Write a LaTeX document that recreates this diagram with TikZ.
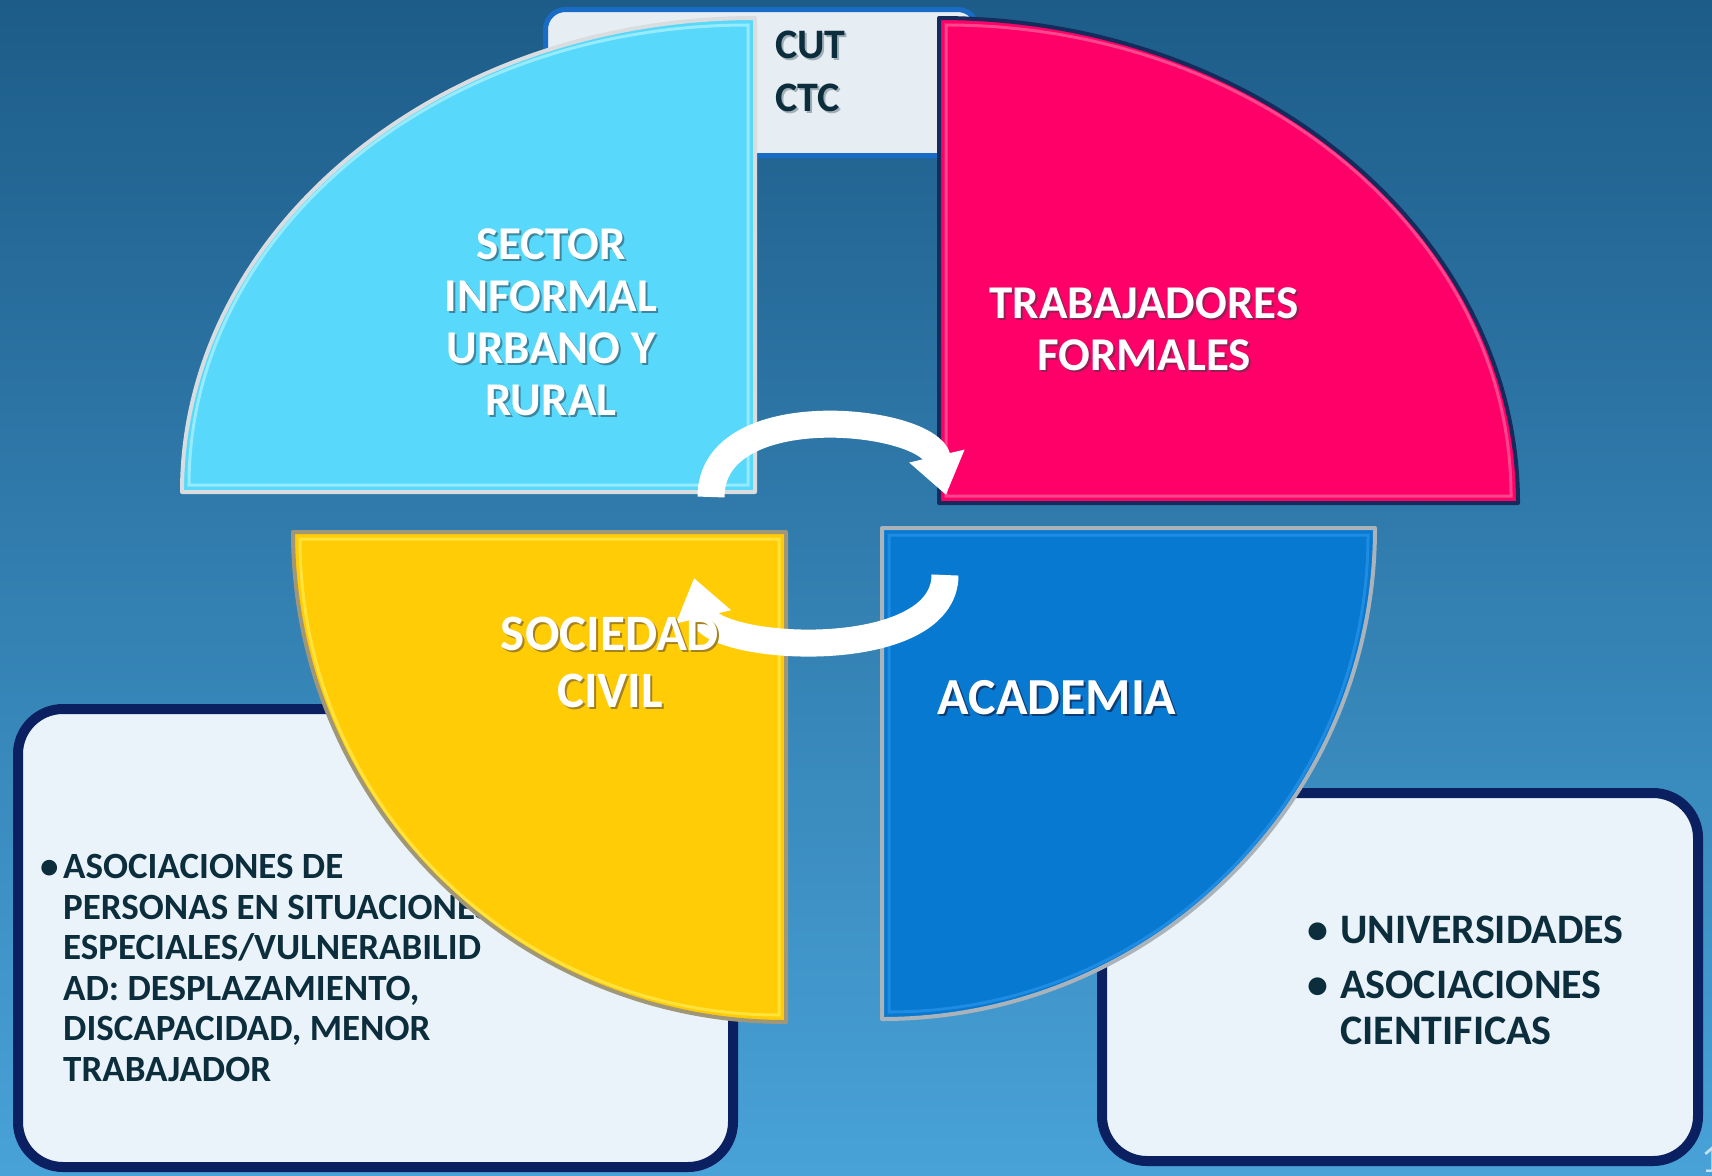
\documentclass[tikz,border=0pt]{standalone}
\usepackage{fontspec}
\setmainfont{Carlito}
\usetikzlibrary{arrows.meta}
\definecolor{bgtop}{RGB}{29,92,137}
\definecolor{bgmid}{RGB}{46,128,178}
\definecolor{bgbot}{RGB}{72,162,216}
\definecolor{qcyan}{RGB}{88,217,251}
\definecolor{qpink}{RGB}{255,0,104}
\definecolor{qyellow}{RGB}{255,204,5}
\definecolor{qblue}{RGB}{8,121,208}
\definecolor{qcyanout}{RGB}{217,221,224}
\definecolor{qcyanin}{RGB}{150,235,255}
\definecolor{qpinkout}{RGB}{21,43,92}
\definecolor{qpinkin}{RGB}{255,70,140}
\definecolor{qyellowout}{RGB}{160,150,120}
\definecolor{qyellowin}{RGB}{255,226,60}
\definecolor{qblueout}{RGB}{170,178,186}
\definecolor{qbluein}{RGB}{30,140,226}
\definecolor{boxfill}{RGB}{235,243,250}
\definecolor{boxline}{RGB}{10,32,96}
\definecolor{cutfill}{RGB}{231,238,243}
\definecolor{cutline}{RGB}{24,108,198}
\definecolor{darktext}{RGB}{12,45,60}
\definecolor{shdark}{RGB}{160,174,184}
\definecolor{shcyan}{RGB}{60,135,160}
\definecolor{shpink}{RGB}{150,30,85}
\definecolor{shyellow}{RGB}{165,130,30}
\definecolor{shblue}{RGB}{15,60,115}
\definecolor{pagenum}{RGB}{200,225,240}
\newcommand\shd[2]{\rlap{\kern2pt\raisebox{-2pt}{\textcolor{#1}{#2}}}#2}
\newcommand\bul[1]{\makebox[#1][l]{•}}
\begin{document}
\begin{tikzpicture}[x=1pt,y=-1pt,
  infobox/.style={draw=boxline, line width=10pt, fill=boxfill, rounded corners=45pt},
  cutbox/.style={draw=cutline, line width=5pt, fill=cutfill, rounded corners=20pt},
  label/.style={text=white, align=center, inner sep=0pt},
  listtext/.style={text=darktext, align=left, inner sep=0pt},
  flowarrow/.style={draw=white, line width=27pt, line cap=butt, -{Triangle[length=40pt,width=54pt]}},
]
\useasboundingbox (0,0) rectangle (1712,1175);
\shade[top color=bgtop, middle color=bgmid, bottom color=bgbot] (0,0) rectangle (1712,1175);

% CUT / CTC box
\draw[cutbox] (545.5,9.5) rectangle (977.5,155.5);
\node[listtext, anchor=west, font=\fontsize{42}{53}\selectfont\bfseries] (cut) at (775,72) {\shd{shdark}{CUT}\\\shd{shdark}{CTC}};

% lower information boxes
\draw[infobox] (18,709) rectangle (733,1167);
\draw[infobox] (1102,793) rectangle (1698,1161);
\node[listtext, anchor=west, font=\fontsize{37}{40.5}\selectfont\bfseries] (civil) at (40,968)
  {\bul{23pt}ASOCIACIONES DE\\
   \hspace*{23pt}PERSONAS EN SITUACIONES\\
   \hspace*{23pt}ESPECIALES/VULNERABILID\\
   \hspace*{23pt}AD: DESPLAZAMIENTO,\\
   \hspace*{23pt}DISCAPACIDAD, MENOR\\
   \hspace*{23pt}TRABAJADOR};
\node[listtext, anchor=west, font=\fontsize{42}{46}\selectfont\bfseries] (acad) at (1307,980)
  {\bul{33pt}UNIVERSIDADES\\[9pt]
   \bul{33pt}ASOCIACIONES\\
   \hspace*{33pt}CIENTIFICAS};

% quadrants
\fill[qcyan, draw=qcyanout, line width=4pt, line join=round]
  (755,492) -- (182,492) .. controls (182,230) and (439,18) .. (755,18) -- cycle;
\draw[qcyanin, line width=3pt]
  (748,485) -- (189,485) .. controls (189,231) and (439,25) .. (748,25) -- cycle;
\fill[qpink, draw=qpinkout, line width=4pt, line join=round]
  (939,503) -- (939,18) .. controls (1259,18) and (1518,235) .. (1518,503) -- cycle;
\draw[qpinkin, line width=3pt]
  (946,496) -- (946,25) .. controls (1258,25) and (1511,236) .. (1511,496) -- cycle;
\fill[qyellow, draw=qyellowout, line width=4pt, line join=round]
  (786,532) -- (293,532) .. controls (293,803) and (514,1022) .. (786,1022) -- cycle;
\draw[qyellowin, line width=3pt]
  (779,539) -- (300,539) .. controls (300,802) and (514,1015) .. (779,1015) -- cycle;
\fill[qblue, draw=qblueout, line width=4pt, line join=round]
  (882,528) -- (1375,528) .. controls (1375,799) and (1154,1019) .. (882,1019) -- cycle;
\draw[qbluein, line width=3pt]
  (889,535) -- (1368,535) .. controls (1368,798) and (1154,1012) .. (889,1012) -- cycle;

% circular arrows
\coordinate (a1s) at (711,497);
\coordinate (a1e) at (946,495);
\coordinate (a2s) at (945,575);
\coordinate (a2e) at (694,578);
\draw[flowarrow] (a1s) .. controls (711,395) and (928,418) .. (a1e);
\draw[flowarrow] (a2s) .. controls (945,665) and (712,652) .. (a2e);

% quadrant labels
\node[label, font=\fontsize{47}{52}\selectfont\bfseries] (sector) at (551,323)
  {\shd{shcyan}{SECTOR}\\\shd{shcyan}{INFORMAL}\\\shd{shcyan}{URBANO Y}\\\shd{shcyan}{RURAL}};
\node[label, font=\fontsize{47}{52}\selectfont\bfseries] (formales) at (1144,330)
  {\shd{shpink}{TRABAJADORES}\\\shd{shpink}{FORMALES}};
\node[label, font=\fontsize{51}{57}\selectfont\bfseries] (sociedad) at (610,663)
  {\shd{shyellow}{SOCIEDAD}\\\shd{shyellow}{CIVIL}};
\node[label, font=\fontsize{52}{57}\selectfont\bfseries] (academia) at (1057,699)
  {\shd{shblue}{ACADEMIA}};

% page number (cut by the page edge, as in the reference)
\node[anchor=west, inner sep=0pt, text=pagenum, font=\fontsize{40}{44}\selectfont] (pnum) at (1701,1160) {1};
\end{tikzpicture}
\end{document}
